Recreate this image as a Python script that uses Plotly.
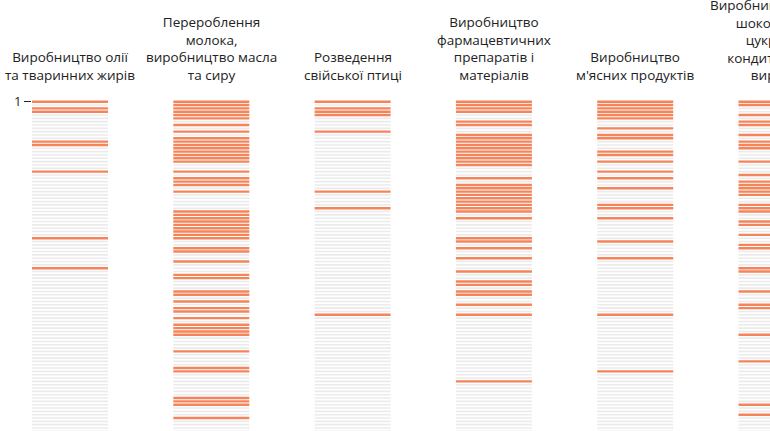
import plotly.graph_objects as go

# ---- data ----
titles = [
    ["Виробництво олії", "та тваринних жирів"],
    ["Перероблення", "молока,", "виробництво масла", "та сиру"],
    ["Розведення", "свійської птиці"],
    ["Виробництво", "фармацевтичних", "препаратів і", "матеріалів"],
    ["Виробництво", "м'ясних продуктів"],
    ["Виробництво какао,", "шоколаду та", "цукрових", "кондитерських", "виробів"],
]
n_ranks = 100
highlight_col1 = [1, 3, 4, 13, 14, 22, 42, 51]
highlight_col2 = [1, 2, 3, 4, 5, 6, 8, 10, 12, 13, 14, 15, 16, 17, 18, 19, 22, 24, 25, 26, 28,
                  34, 35, 36, 37, 38, 39, 40, 41, 42, 45, 46, 49, 53, 54, 58, 59, 61, 63, 64, 66,
                  68, 69, 70, 71, 76, 81, 82, 90, 91, 92, 96]
highlight_col3 = [1, 3, 4, 5, 10, 28, 33, 65]
highlight_col4 = [1, 2, 3, 4, 7, 8, 11, 12, 13, 14, 15, 16, 17, 18, 19, 20, 24, 26, 27, 28, 29,
                  30, 31, 32, 33, 34, 36, 42, 43, 45, 48, 52, 55, 56, 58, 59, 62, 65, 85]
highlight_col5 = [1, 2, 3, 4, 5, 6, 9, 11, 12, 16, 17, 19, 22, 24, 27, 32, 33, 36, 43, 48, 65, 82]
highlight_col6 = [1, 2, 5, 7, 8, 11, 13, 14, 15, 19, 23, 25, 26, 27, 28, 29, 32, 33, 34, 37, 38,
                  41, 44, 45, 51, 52, 58, 62, 63, 71, 79, 92, 95]
highlights = [highlight_col1, highlight_col2, highlight_col3,
              highlight_col4, highlight_col5, highlight_col6]

GREY = "#ebebeb"
ORANGE = "#f4845a"
HALF = 0.269
TOP_MARGIN = 95
FIG_W = 830  # wider than the window: the last column is cut at the window edge

fig = go.Figure()
gx, gy, ox, oy = [], [], [], []
for i, hl in enumerate(highlights):
    hs = set(hl)
    for r in range(1, n_ranks + 1):
        if r in hs:
            ox += [i - HALF, i + HALF, None]
            oy += [r, r, None]
        else:
            gx += [i - HALF, i + HALF, None]
            gy += [r, r, None]

fig.add_trace(go.Scatter(x=gx, y=gy, mode="lines", line=dict(color=GREY, width=1.6),
                         hoverinfo="skip", showlegend=False))
fig.add_trace(go.Scatter(x=ox, y=oy, mode="lines", line=dict(color=ORANGE, width=2.4),
                         hoverinfo="skip", showlegend=False))

for i, t in enumerate(titles):
    fig.add_annotation(x=i, y=1, xref="x", yref="paper", text="<br>".join(t),
                       showarrow=False, yanchor="bottom", xanchor="center", yshift=9,
                       font=dict(size=13.5, color="#222222", family="Open Sans"))

fig.update_layout(
    width=FIG_W, height=431,
    margin=dict(l=32, r=0, t=TOP_MARGIN, b=0, autoexpand=False),
    paper_bgcolor="white", plot_bgcolor="white",
    font=dict(family="Open Sans", size=13, color="#222222"),
    xaxis=dict(range=[-0.269, -0.269 + (FIG_W - 32) / 141.3], visible=False,
               fixedrange=True, automargin=False),
    yaxis=dict(range=[99.9, -1.01], tickvals=[1], ticktext=["1"], ticks="outside",
               ticklen=7, tickwidth=1.2, tickcolor="#222222", showgrid=False,
               zeroline=False, showline=False, fixedrange=True, automargin=False,
               tickfont=dict(size=13)),
)

fig.write_html("out.html", config={"displayModeBar": False},
               post_script="document.body.style.margin='0';document.body.style.overflow='hidden';")
